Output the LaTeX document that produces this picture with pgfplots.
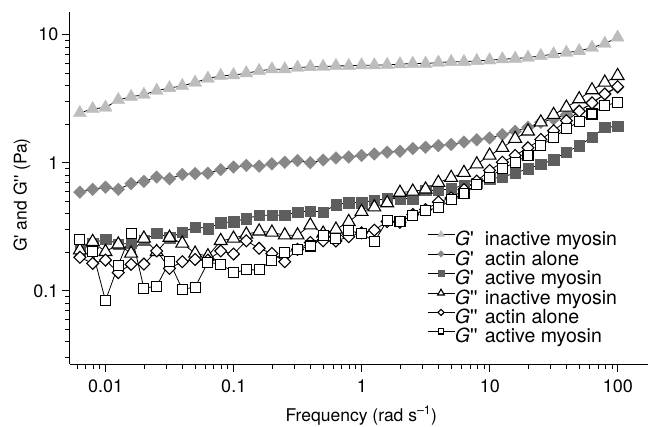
\documentclass[border=0pt]{standalone}
\usepackage{fontspec}
\setmainfont{TeX Gyre Heros}
\usepackage{pgfplots}
\usepackage{pgfplotstable}
\pgfplotsset{compat=1.18}

\definecolor{lightG}{HTML}{BDBDBD}
\definecolor{midG}{HTML}{878787}
\definecolor{darkG}{HTML}{5E5E5E}

% frequency, then G' and G'' for inactive myosin / actin alone / active myosin
\pgfplotstableread{
x          GpI   GpA    GpM    GppI   GppA   GppM
0.0062832  2.45  0.59   0.206  0.208  0.183  0.252
0.0079100  2.63  0.62   0.235  0.242  0.164  0.202
0.0099583  2.70  0.645  0.254  0.202  0.174  0.084
0.012537   3.09  0.62   0.232  0.231  0.139  0.159
0.015783   3.27  0.687  0.235  0.196  0.161  0.281
0.019869   3.40  0.716  0.249  0.257  0.162  0.105
0.025014   3.65  0.773  0.281  0.202  0.205  0.109
0.031491   3.83  0.751  0.261  0.261  0.150  0.169
0.039644   3.98  0.811  0.286  0.235  0.169  0.103
0.049909   4.23  0.822  0.316  0.196  0.176  0.107
0.062832   4.54  0.83   0.307  0.187  0.174  0.167
0.079100   4.77  0.883  0.34   0.246  0.205  0.162
0.099583   4.83  0.925  0.346  0.257  0.194  0.139
0.12537    5.00  0.953  0.367  0.276  0.246  0.146
0.15783    5.21  0.94   0.389  0.292  0.215  0.146
0.19869    5.37  0.98   0.389  0.286  0.196  0.174
0.25014    5.37  1.01   0.389  0.272  0.169  0.199
0.31491    5.53  1.04   0.413  0.272  0.211  0.211
0.39644    5.60  1.00   0.421  0.326  0.239  0.224
0.49909    5.62  1.05   0.413  0.281  0.246  0.272
0.62832    5.70  1.09   0.47   0.302  0.245  0.255
0.79100    5.70  1.11   0.489  0.346  0.265  0.294
0.99583    5.77  1.14   0.489  0.415  0.284  0.282
1.2537     5.77  1.17   0.509  0.45   0.298  0.242
1.5783     5.81  1.21   0.525  0.485  0.348  0.354
1.9869     5.88  1.23   0.525  0.585  0.343  0.346
2.5014     5.94  1.29   0.525  0.598  0.395  0.389
3.1491     5.94  1.32   0.609  0.621  0.431  0.426
3.9644     6.05  1.36   0.609  0.70   0.494  0.445
4.9909     6.13  1.39   0.628  0.764  0.531  0.513
6.2832     6.13  1.45   0.667  0.836  0.617  0.58
7.9100     6.24  1.51   0.69   0.975  0.72   0.677
9.9583     6.31  1.56   0.751  1.14   0.871  0.773
12.537     6.43  1.66   0.773  1.31   1.01   0.898
15.783     6.50  1.76   0.83   1.54   1.14   1.01
19.869     6.62  1.89   0.898  1.76   1.31   1.14
25.014     6.82  2.07   0.97   2.07   1.52   1.36
31.491     7.03  2.20   1.06   2.37   1.78   1.58
39.644     7.23  2.37   1.21   2.70   2.13   1.84
49.909     7.45  2.55   1.36   3.14   2.52   2.10
62.832     7.91  2.90   1.58   3.69   2.93   2.40
79.100     8.50  3.44   1.89   4.23   3.44   2.79
99.583     9.50  3.87   1.92   4.77   3.92   2.96
}\moduli

\newcommand{\gp}{\textit{G}\textquotesingle}
\newcommand{\gpp}{\textit{G}\textquotesingle\textquotesingle}
\newcommand{\bigfont}{\fontsize{17.5}{20}\selectfont}
\newcommand{\legfont}{\fontsize{19.5}{21}\selectfont}

\begin{document}
\begin{tikzpicture}
\useasboundingbox (-70pt,-62pt) rectangle (580pt,364pt);
\begin{axis}[
  scale only axis, width=578pt, height=352pt,
  xmode=log, ymode=log,
  xmin=0.00526, xmax=172, ymin=0.0269, ymax=15,
  axis x line=bottom, axis y line=left,
  axis line style={-, line width=1pt},
  tick align=outside, major tick length=8pt, minor tick length=5pt,
  tick style={black, line width=0.9pt},
  xtick={0.01,0.1,1,10,100}, xticklabels={0.01,0.1,1,10,100},
  ytick={0.1,1,10}, yticklabels={0.1,1,10},
  minor xtick={0.006,0.007,0.008,0.009,0.02,0.03,0.04,0.05,0.06,0.07,0.08,0.09,
    0.2,0.3,0.4,0.5,0.6,0.7,0.8,0.9,2,3,4,5,6,7,8,9,20,30,40,50,60,70,80,90},
  minor ytick={0.03,0.04,0.05,0.06,0.07,0.08,0.09,0.2,0.3,0.4,0.5,0.6,0.7,0.8,0.9,
    2,3,4,5,6,7,8,9},
  tick label style={font=\fontsize{18}{20}\selectfont},
  xticklabel style={yshift=-4pt},
  xlabel={Frequency (rad s\textsuperscript{–1})},
  ylabel={G\textquotesingle{} and G\textquotesingle\textquotesingle{} (Pa)},
  every axis x label/.style={at={(axis description cs:0.504,-0.162)}, anchor=base, font=\bigfont},
  every axis y label/.style={at={(axis description cs:-0.083,0.48)}, rotate=90, anchor=center, font=\bigfont},
  legend image code/.code={
    \draw[mark repeat=2, mark phase=2, #1, every mark/.append style={scale=0.52}]
      plot coordinates {(0pt,6.5pt) (13.5pt,6.5pt) (27pt,6.5pt)};},
  legend style={at={(0.6175,0.38)}, anchor=north west, draw=none, fill=none,
    inner sep=0pt, row sep=0.5pt, font=\legfont,
    nodes={inner sep=0pt, text height=14pt, text depth=4.5pt},
    /tikz/every even column/.append style={column sep=7pt}},
  legend cell align=left,
]
\addplot[black, line width=0.8pt, mark=triangle*, mark size=7.6pt,
  mark options={fill=lightG, draw=lightG, line width=0.3pt}]
  table[x=x, y=GpI]{\moduli};
\addlegendentry{\makebox[30pt][l]{\gp}inactive myosin}
\addplot[black, line width=0.8pt, mark=square*, mark size=4.5pt,
  mark options={rotate=45, fill=midG, draw=midG, line width=0.3pt}]
  table[x=x, y=GpA]{\moduli};
\addlegendentry{\makebox[30pt][l]{\gp}actin alone}
\addplot[black, line width=0.8pt, mark=square*, mark size=5.2pt,
  mark options={fill=darkG, draw=darkG, line width=0.3pt}]
  table[x=x, y=GpM]{\moduli};
\addlegendentry{\makebox[30pt][l]{\gp}active myosin}
\addplot[black, line width=0.8pt, mark=triangle*, mark size=7.4pt,
  mark options={fill=white, draw=black, line width=1.1pt}]
  table[x=x, y=GppI]{\moduli};
\addlegendentry{\makebox[30pt][l]{\gpp}inactive myosin}
\addplot[black, line width=0.8pt, mark=square*, mark size=4.2pt,
  mark options={rotate=45, fill=white, draw=black, line width=1.1pt}]
  table[x=x, y=GppA]{\moduli};
\addlegendentry{\makebox[30pt][l]{\gpp}actin alone}
\addplot[black, line width=0.8pt, mark=square*, mark size=5pt,
  mark options={fill=white, draw=black, line width=1.1pt}]
  table[x=x, y=GppM]{\moduli};
\addlegendentry{\makebox[30pt][l]{\gpp}active myosin}
\end{axis}
\end{tikzpicture}
\end{document}
